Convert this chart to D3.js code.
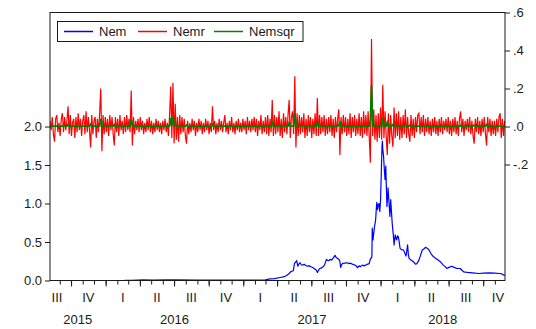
<!DOCTYPE html>
<html>
<head>
<meta charset="utf-8">
<script src="https://cdn.jsdelivr.net/npm/d3@7"></script>
<style>
  html, body { margin: 0; padding: 0; background: #fff; }
  svg { display: block; font-family: "Liberation Sans", Arial, Helvetica, sans-serif; }
</style>
</head>
<body>
<svg id="chart" width="536" height="329"></svg>
<script>
// ---- data -------------------------------------------------------------
const seriesNames = ["Nem", "Nemr", "Nemsqr"];
const seriesColors = ["#0000ff", "#ff0000", "#008000"];
const dateStart = "2015-08-06";
const dateEnd = "2018-11-28";
const leftTicks = [0.0, 0.5, 1.0, 1.5, 2.0];
const rightTicks = [-0.2, 0.0, 0.2, 0.4, 0.6];
const quarterNames = ["I", "II", "III", "IV"];

// Nem price level (left scale)
const nem = [
  ["2015-08-06",0.0002],["2015-10-01",0.0002],["2015-12-01",0.0002],["2016-01-15",0.0003],
  ["2016-02-20",0.0005],["2016-03-10",0.003],["2016-04-10",0.007],["2016-05-05",0.006],
  ["2016-06-10",0.008],["2016-07-10",0.007],["2016-09-01",0.005],["2016-11-01",0.004],
  ["2017-01-01",0.004],["2017-02-10",0.005],["2017-03-01",0.008],["2017-03-13",0.021],
  ["2017-03-25",0.025],["2017-04-09",0.039],["2017-04-20",0.05],["2017-04-27",0.069],
  ["2017-05-03",0.09],["2017-05-06",0.109],["2017-05-10",0.12],["2017-05-14",0.126],
  ["2017-05-17",0.22],["2017-05-20",0.24],["2017-05-23",0.257],["2017-05-26",0.186],
  ["2017-05-29",0.215],["2017-06-01",0.23],["2017-06-04",0.205],["2017-06-08",0.2],
  ["2017-06-12",0.21],["2017-06-16",0.195],["2017-06-21",0.186],["2017-06-26",0.19],
  ["2017-07-01",0.175],["2017-07-05",0.169],["2017-07-10",0.15],["2017-07-14",0.135],
  ["2017-07-17",0.104],["2017-07-20",0.13],["2017-07-23",0.156],["2017-07-27",0.16],
  ["2017-08-01",0.178],["2017-08-05",0.2],["2017-08-10",0.274],["2017-08-13",0.26],
  ["2017-08-17",0.257],["2017-08-20",0.275],["2017-08-24",0.265],["2017-08-28",0.29],
  ["2017-09-02",0.326],["2017-09-05",0.3],["2017-09-09",0.287],["2017-09-13",0.27],
  ["2017-09-15",0.244],["2017-09-17",0.169],["2017-09-19",0.2],["2017-09-22",0.222],
  ["2017-09-27",0.225],["2017-10-04",0.23],["2017-10-08",0.22],["2017-10-13",0.225],
  ["2017-10-18",0.213],["2017-10-23",0.205],["2017-10-28",0.19],["2017-11-01",0.169],
  ["2017-11-05",0.19],["2017-11-09",0.18],["2017-11-14",0.2],["2017-11-19",0.19],
  ["2017-11-24",0.205],["2017-11-28",0.213],["2017-12-02",0.22],["2017-12-04",0.265],
  ["2017-12-08",0.3],["2017-12-09",0.31],["2017-12-10",0.679],["2017-12-12",0.527],
  ["2017-12-14",0.614],["2017-12-16",0.7],["2017-12-19",0.788],["2017-12-21",0.95],
  ["2017-12-22",1.014],["2017-12-24",0.92],["2017-12-26",0.984],["2017-12-28",1.0],
  ["2017-12-30",0.897],["2018-01-01",1.036],["2018-01-03",1.398],["2018-01-05",1.75],
  ["2018-01-06",1.812],["2018-01-07",1.7],["2018-01-09",1.616],["2018-01-11",1.45],
  ["2018-01-13",1.311],["2018-01-15",1.486],["2018-01-16",1.3],["2018-01-18",0.962],
  ["2018-01-20",1.1],["2018-01-21",1.202],["2018-01-23",1.05],["2018-01-26",0.832],
  ["2018-01-28",1.05],["2018-01-30",0.9],["2018-02-01",0.745],["2018-02-04",0.593],
  ["2018-02-06",0.462],["2018-02-09",0.593],["2018-02-11",0.55],["2018-02-13",0.527],
  ["2018-02-15",0.58],["2018-02-17",0.571],["2018-02-19",0.52],["2018-02-22",0.418],
  ["2018-02-26",0.4],["2018-03-03",0.396],["2018-03-07",0.35],["2018-03-10",0.318],
  ["2018-03-14",0.462],["2018-03-16",0.34],["2018-03-18",0.287],["2018-03-22",0.27],
  ["2018-03-26",0.257],["2018-03-30",0.24],["2018-04-04",0.213],["2018-04-08",0.22],
  ["2018-04-13",0.265],["2018-04-17",0.32],["2018-04-22",0.396],["2018-04-26",0.41],
  ["2018-05-01",0.431],["2018-05-05",0.42],["2018-05-10",0.396],["2018-05-15",0.35],
  ["2018-05-20",0.318],["2018-05-27",0.29],["2018-06-03",0.265],["2018-06-10",0.24],
  ["2018-06-17",0.2],["2018-06-22",0.18],["2018-06-26",0.156],["2018-07-02",0.17],
  ["2018-07-09",0.186],["2018-07-16",0.17],["2018-07-23",0.156],["2018-08-01",0.156],
  ["2018-08-06",0.13],["2018-08-10",0.113],["2018-08-20",0.105],["2018-09-02",0.1],
  ["2018-09-10",0.095],["2018-09-20",0.091],["2018-10-01",0.095],["2018-10-18",0.1],
  ["2018-11-01",0.095],["2018-11-14",0.091],["2018-11-20",0.085],["2018-11-25",0.069],
  ["2018-11-28",0.065]
];

// Nemr returns (right scale), one reading every nemrStepDays days from dateStart
const nemrStepDays = 3;
const nemr = [
  .03,-.02,.05,-.04,-.08,.04,.06,-.03,.02,-.05,
  .04,.07,-.03,.05,-.02,.03,.107,-.04,.06,-.05,
  .02,.04,-.06,.05,-.03,.07,-.02,.04,-.05,.03,
  .06,-.04,.08,-.03,.05,-.02,-.11,.06,-.04,.03,
  .05,-.06,.04,-.03,.07,.20,-.13,.06,-.04,.05,
  -.03,.04,-.05,.06,-.02,.05,-.04,-.10,.05,-.03,
  .04,-.05,.06,-.02,.03,-.04,.05,-.03,.06,-.02,
  .04,-.03,.19,-.10,.05,-.04,.03,-.02,.04,-.03,
  .05,-.02,.03,-.04,.02,-.03,.04,-.02,.05,-.03,
  .03,-.04,.02,-.03,.04,-.02,.03,-.03,.02,-.04,
  .03,-.02,.04,-.03,.02,-.05,.06,.21,-.06,.23,
  -.09,.12,-.07,.05,-.08,.06,-.04,.05,-.03,.04,
  -.05,-.09,.03,-.04,.02,-.03,.04,-.02,.03,-.05,
  .02,-.03,.04,-.02,.03,-.04,.02,-.03,.04,-.02,
  .03,-.04,.02,-.03,.107,-.02,.03,-.04,.02,-.03,
  .04,-.02,.03,-.03,.02,.06,-.03,.02,-.04,.03,
  -.02,.05,-.03,.02,-.04,.03,-.02,.04,-.03,.02,
  -.03,.04,-.02,.03,-.04,.05,-.02,.03,-.03,.04,
  -.02,.05,-.03,.04,-.05,.03,-.02,.06,-.04,.03,
  -.03,.05,-.04,.06,-.05,.04,-.03,.14,-.05,.06,
  -.04,.05,-.03,.08,-.05,.04,-.06,.07,-.03,.05,
  -.04,.06,.14,-.06,.05,.08,-.04,.265,-.11,.07,
  -.05,.06,-.04,.05,-.03,.07,-.06,.04,-.05,.06,
  -.03,.05,-.06,.04,-.04,.07,-.05,.15,-.05,.06,
  -.04,.05,-.03,.06,-.05,.04,-.04,.05,-.03,.06,
  -.05,.04,-.06,.05,-.03,.04,.09,-.15,.05,-.04,
  .06,-.03,.05,-.05,.04,-.04,.07,-.06,.05,-.03,
  .06,-.05,.04,-.04,.07,-.05,.05,-.06,.08,-.04,
  .06,-.05,.08,-.06,-.19,.46,-.05,.09,-.07,.06,
  -.08,.07,-.06,.10,-.07,.22,-.06,.08,-.05,-.15,
  .07,-.09,.06,-.05,-.107,.10,-.06,.07,-.05,.08,
  -.07,.05,-.06,.06,-.04,.09,-.06,.05,-.04,-.08,
  .06,-.05,.04,-.06,.05,-.03,.06,.07,-.04,.05,
  -.03,.06,-.05,.04,-.03,.05,-.04,.03,-.05,.04,
  -.03,.05,-.04,.03,-.05,.04,-.03,.05,-.04,.03,
  -.02,.04,-.03,.05,-.04,.03,-.05,.04,-.03,.05,
  -.04,.03,-.05,.04,.08,-.03,.04,-.05,.03,-.02,
  .04,-.03,.05,-.04,.03,-.05,-.09,.04,-.03,.05,
  -.04,.03,-.05,.04,-.03,.05,-.04,-.10,.05,-.03,
  .04,-.05,.03,-.04,.03,-.05,.04,-.03,.05,.07,
  -.06,.04,-.05,.03
];

// Nemsqr squared returns (right scale): [reading number on the Nemr grid, value]
const nemsqr = [
  [0,.002],[15,.002],[16,.011],[17,.002],[35,.002],[36,.012],[37,.002],
  [44,.002],[45,.040],[46,.017],[47,.003],[56,.002],[57,.010],[58,.002],
  [71,.002],[72,.036],[73,.010],[74,.002],[106,.002],[107,.044],[108,.004],
  [109,.053],[110,.008],[111,.014],[112,.003],[120,.002],[121,.008],[122,.002],
  [143,.002],[144,.011],[145,.002],[196,.002],[197,.020],[198,.002],
  [202,.002],[203,.006],[204,.002],[211,.002],[212,.020],[213,.003],
  [216,.002],[217,.070],[218,.012],[219,.003],[236,.002],[237,.022],[238,.002],
  [255,.002],[256,.008],[257,.022],[258,.002],[277,.002],[278,.006],[279,.002],
  [283,.002],[284,.036],[285,.214],[286,.003],[287,.008],[288,.003],
  [292,.002],[293,.010],[294,.003],[295,.048],[296,.003],[298,.002],[299,.022],
  [300,.003],[301,.008],[302,.003],[303,.002],[304,.011],[305,.010],[306,.003],
  [314,.002],[315,.008],[316,.002],[318,.002],[319,.006],[320,.002],
  [363,.002],[364,.006],[365,.002],[375,.002],[376,.008],[377,.002],
  [386,.002],[387,.010],[388,.002],[403,.002]
];

// ---- layout -----------------------------------------------------------
const plot = { left: 50, right: 505, top: 12.5, bottom: 280.5 };
const ink = "#1a1a1a";
const fontSize = 13;
const parse = d3.utcParse("%Y-%m-%d");
const t0 = parse(dateStart), t1 = parse(dateEnd);
const gridDate = i => d3.utcDay.offset(t0, i * nemrStepDays);

const x = d3.scaleUtc().domain([t0, t1]).range([plot.left, plot.right]);
// left scale: 2.0 shares its height with .0 on the right scale
const yL = d3.scaleLinear().domain([0, 3.481]).range([plot.bottom, plot.top]);
const yR = d3.scaleLinear().domain([-0.8105, 0.6]).range([plot.bottom, plot.top]);

const svg = d3.select("#chart");

svg.append("clipPath").attr("id", "plotClip")
  .append("rect")
  .attr("x", plot.left).attr("y", plot.top)
  .attr("width", plot.right - plot.left).attr("height", plot.bottom - plot.top);

const lines = svg.append("g").attr("clip-path", "url(#plotClip)");

// Nem
lines.append("path")
  .datum(nem)
  .attr("fill", "none")
  .attr("stroke", seriesColors[0])
  .attr("stroke-width", 1.2)
  .attr("stroke-linejoin", "round")
  .attr("d", d3.line().x(d => x(parse(d[0]))).y(d => yL(d[1])));

// Nemr
lines.append("path")
  .datum(nemr)
  .attr("fill", "none")
  .attr("stroke", seriesColors[1])
  .attr("stroke-width", 1.2)
  .attr("d", d3.line().x((d, i) => x(gridDate(i))).y(d => yR(d)));

// Nemsqr
lines.append("path")
  .datum(nemsqr)
  .attr("fill", "none")
  .attr("stroke", seriesColors[2])
  .attr("stroke-width", 1.8)
  .attr("d", d3.line().x(d => x(gridDate(d[0]))).y(d => yR(d[1])));

// ---- axes -------------------------------------------------------------
const styleAxis = g => {
  g.select(".domain").remove();
  g.selectAll(".tick line").attr("stroke", ink);
  g.selectAll(".tick text").attr("fill", ink).attr("font-size", fontSize)
    .attr("font-family", '"Liberation Sans", Arial, sans-serif');
};

svg.append("g")
  .attr("transform", `translate(${plot.left},0)`)
  .call(d3.axisLeft(yL).tickValues(leftTicks).tickFormat(d3.format(".1f"))
    .tickSize(5).tickPadding(3))
  .call(styleAxis);

const rightFmt = d => (d < 0 ? "-" : "") + Math.abs(d).toFixed(1).replace(/^0/, "");
svg.append("g")
  .attr("transform", `translate(${plot.right},0)`)
  .call(d3.axisRight(yR).tickValues(rightTicks).tickFormat(rightFmt)
    .tickSize(5).tickPadding(3))
  .call(styleAxis);

// monthly minor ticks, quarterly major ticks
const months = d3.utcMonth.range(d3.utcMonth.ceil(t0), t1);
const quarterStarts = months.filter(d => d.getUTCMonth() % 3 === 0);
svg.append("g")
  .attr("transform", `translate(0,${plot.bottom})`)
  .call(d3.axisBottom(x).tickValues(months).tickFormat("").tickSize(4))
  .call(styleAxis);
svg.append("g")
  .attr("transform", `translate(0,${plot.bottom})`)
  .call(d3.axisBottom(x).tickValues(quarterStarts).tickFormat("").tickSize(6))
  .call(styleAxis);

// quarter labels
const quarters = d3.utcMonth.every(3).range(d3.utcMonth.every(3).floor(t0), t1);
svg.append("g").selectAll("text")
  .data(quarters)
  .join("text")
  .attr("x", d => {
    const c = (x(d) + x(d3.utcMonth.offset(d, 3))) / 2;
    return Math.max(plot.left + 7, Math.min(plot.right - 7, c));
  })
  .attr("y", 301.5)
  .attr("text-anchor", "middle")
  .attr("font-size", fontSize)
  .attr("fill", ink)
  .text(d => quarterNames[Math.floor(d.getUTCMonth() / 3)]);

// year labels
const years = d3.utcYear.range(d3.utcYear.floor(t0), t1);
svg.append("g").selectAll("text")
  .data(years)
  .join("text")
  .attr("x", d => {
    const a = Math.max(x(d), plot.left);
    const b = Math.min(x(d3.utcYear.offset(d, 1)), plot.right);
    return (a + b) / 2;
  })
  .attr("y", 324)
  .attr("text-anchor", "middle")
  .attr("font-size", fontSize)
  .attr("fill", ink)
  .text(d => d.getUTCFullYear());

// frame
svg.append("rect")
  .attr("x", plot.left).attr("y", plot.top)
  .attr("width", plot.right - plot.left).attr("height", plot.bottom - plot.top)
  .attr("fill", "none").attr("stroke", ink).attr("stroke-width", 1);

// ---- legend -----------------------------------------------------------
const legend = svg.append("g");
legend.append("rect")
  .attr("x", 57.5).attr("y", 21.5).attr("width", 245.5).attr("height", 20)
  .attr("fill", "#fff").attr("stroke", ink).attr("stroke-width", 1);
const legendX = [64, 138, 214];
seriesNames.forEach((name, i) => {
  legend.append("line")
    .attr("x1", legendX[i]).attr("x2", legendX[i] + 29)
    .attr("y1", 31.5).attr("y2", 31.5)
    .attr("stroke", seriesColors[i]).attr("stroke-width", 1.5);
  legend.append("text")
    .attr("x", legendX[i] + 35).attr("y", 36)
    .attr("font-size", fontSize).attr("fill", ink)
    .text(name);
});
</script>
</body>
</html>
